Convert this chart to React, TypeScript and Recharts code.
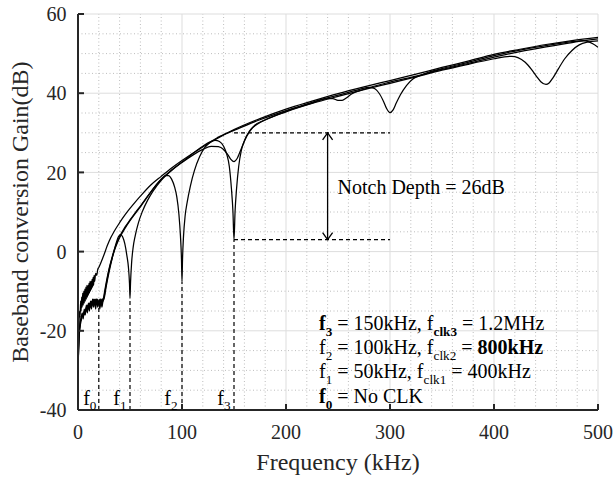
import React from 'react';
import { LineChart, Line, XAxis, YAxis, CartesianGrid, ReferenceLine, ReferenceDot } from 'recharts';

const FONT = 'Liberation Serif';
const INK = '#000000';
const FRAME = '#262626';

// axes
const xTicks = [0, 100, 200, 300, 400, 500];
const yTicks = [-40, -20, 0, 20, 40, 60];
const xMinorTicks = [20, 40, 60, 80, 120, 140, 160, 180, 220, 240, 260, 280, 320, 340, 360, 380, 420, 440, 460, 480];
const yMinorTicks = [-35, -30, -25, -15, -10, -5, 5, 10, 15, 25, 30, 35, 45, 50, 55];

// f0: no clock  [kHz, dB]
const noClkPoints: [number, number][] = [
  [0, -30], [0.5, -22], [1, -18], [1.5, -15], [2, -16.5], [2.5, -12.5], [3, -15], [3.5, -11.5], [4, -14],
  [4.5, -10.5], [5, -13.5], [5.5, -10], [6, -13], [6.5, -9.5], [7, -12.5], [7.5, -9], [8, -12], [8.5, -8.5],
  [9, -11.5], [9.5, -8.5], [10, -11], [10.5, -8], [11, -10.5], [11.5, -7.5], [12, -10], [12.5, -7.5], [13, -9.5],
  [13.5, -7], [14, -9], [14.5, -6.5], [15, -8.5], [15.5, -6], [16, -7.5], [17, -5.5], [18, -6], [19, -4.5],
  [20, -4], [22, -2.8], [25, -0.8], [28, 1.4], [30, 2.7], [35, 5.2], [40, 7.3], [45, 9.2], [50, 10.9],
  [55, 12.5], [60, 14], [70, 16.8], [80, 19], [90, 21.1], [100, 23], [115, 25.6], [130, 28], [150, 30.8],
  [175, 33.6], [200, 36], [225, 38], [250, 39.9], [275, 41.6], [300, 43.2], [325, 44.8], [350, 46.5],
  [375, 48.1], [400, 49.8], [425, 51.1], [450, 52.3], [475, 53.3], [500, 54.1],
];

// f1 = 50 kHz
const f1Points: [number, number][] = [
  [0, -30], [0.5, -25], [1, -21], [2, -18], [3, -17], [4, -15.5], [5, -17], [6, -14.5], [7, -16], [8, -13.5],
  [9, -15.5], [10, -13], [11, -15], [12, -12.5], [13, -14.5], [14, -12], [15, -14], [16, -12.5], [17, -14.5],
  [18, -12], [19, -14], [20, -12.5], [21, -14.5], [22, -12], [23, -14], [24, -12.5], [25, -12], [27, -9],
  [30, -5], [33, -1.5], [36, 1.5], [39, 3.8], [41, 4.3], [43, 3.7], [45, 2], [47, -1], [48.5, -4], [49.5, -8],
  [50, -11.8], [50.5, -8], [51.5, -3], [53, 1], [55, 4], [58, 7.2], [62, 10.2], [67, 13], [72, 15.2], [80, 18],
  [90, 20.5], [100, 22.5], [110, 24.3], [120, 25.8], [128, 26.6], [135, 26.5], [140, 25.8], [144, 24.5],
  [147, 23.3], [150, 22.7], [153, 23.5], [157, 26], [162, 29], [168, 31.3], [175, 32.6], [185, 33.8],
  [200, 35.4], [225, 37.5], [240, 38.6], [245, 38.6], [250, 38.2], [254, 38.2], [258, 38.8], [263, 39.8],
  [275, 41], [300, 42.8], [325, 44.3], [350, 46], [375, 47.5], [400, 49.1], [425, 50.5], [450, 51.7],
  [475, 52.8], [500, 53.7],
];

// f2 = 100 kHz
const f2Points: [number, number][] = [
  [0, -30], [0.5, -25], [1, -21.5], [2, -18.5], [3, -16.5], [4, -16], [5, -16.5], [6, -15], [7, -15.5],
  [8, -14], [9, -15], [10, -13.5], [11, -14.5], [12, -13], [13, -14], [14, -12.5], [15, -13.5], [16, -12],
  [17, -13.5], [18, -12], [19, -13.5], [20, -12.5], [21, -14], [22, -12], [23, -13.5], [24, -12], [25, -11.5],
  [27, -8.5], [30, -4.5], [33, -1.5], [36, 1], [40, 3.5], [45, 5.8], [50, 7.8], [55, 9.6], [60, 11.3],
  [65, 13.2], [70, 15], [75, 16.8], [80, 18.3], [84, 19.2], [87, 19.2], [90, 18.3], [93, 16.2], [95, 13.8],
  [97, 9.5], [98.5, 4], [99.5, -2], [100, -7.6], [100.5, -2], [101.5, 4], [103, 9], [105, 12.5], [108, 16.5],
  [112, 20.5], [117, 24], [122, 26.3], [128, 27.8], [135, 28.9], [150, 30.6], [175, 33.3], [200, 35.6],
  [225, 37.7], [250, 39.5], [270, 40.9], [280, 41.5], [285, 41.2], [290, 39.8], [294, 37.8], [297, 36],
  [300, 35.1], [303, 35.8], [306, 37.5], [310, 39.6], [316, 42], [322, 43.6], [330, 44.6], [350, 46.2],
  [375, 47.8], [400, 49.5], [425, 50.9], [450, 52], [475, 53], [486, 53.3], [490, 53.1], [495, 52.5],
  [500, 51.6],
];

// f3 = 150 kHz
const f3Points: [number, number][] = [
  [0, -30], [0.5, -25.5], [1, -22], [2, -19], [3, -17.5], [4, -16.5], [5, -15.5], [6, -16], [7, -14.5],
  [8, -15], [9, -13.5], [10, -14.5], [11, -13], [12, -14], [13, -12.5], [14, -13.5], [15, -12], [16, -13],
  [17, -12], [18, -13], [19, -12], [20, -13], [21, -12], [22, -13.5], [23, -12], [24, -12.5], [25, -11],
  [27, -8], [30, -4.2], [33, -1.2], [36, 1.3], [40, 3.8], [45, 6.1], [50, 8], [55, 9.8], [60, 11.5],
  [70, 15.1], [80, 18.2], [90, 20.6], [100, 22.6], [110, 24.7], [120, 26.6], [127, 27.7], [132, 28.1],
  [136, 27.8], [140, 26.6], [143, 24.6], [145.5, 21.5], [147.5, 16], [149, 10], [150, 3], [151, 10],
  [152.5, 16], [154.5, 21.5], [157, 25.5], [160, 28], [165, 30.5], [170, 31.9], [180, 33.3], [200, 35.3],
  [225, 37.4], [250, 39.2], [275, 40.9], [300, 42.5], [325, 44.1], [350, 45.8], [375, 47.3], [400, 48.7],
  [410, 49.2], [417, 49.3], [423, 49], [430, 47.8], [436, 46], [441, 44.2], [445, 42.9], [450, 42.2],
  [453, 42.6], [457, 44], [462, 46.2], [468, 48.7], [475, 50.8], [482, 52.2], [490, 52.9], [500, 53.2],
];

// annotations (data units)
const notchBandFreqs = [150, 300];
const notchBandLevels = [30, 3];
const arrowFreq = 240;
const notchLabel = 'Notch Depth = 26dB';
const markerFreqs = [20, 50, 100, 150];
const markerTops = [-14, -11.8, -7.6, 3];
const markerLabelFreqs = [5, 34, 83, 134];
const markerLabelGain = -38.7;
const markerSubs = ['0', '1', '2', '3'];

type Run = { t: string; sub?: boolean; bold?: boolean };
const legendLines: Run[][] = [
  [{ t: 'f', bold: true }, { t: '3', sub: true, bold: true }, { t: ' = 150kHz, f' }, { t: 'clk3', sub: true, bold: true }, { t: ' = 1.2MHz' }],
  [{ t: 'f' }, { t: '2', sub: true }, { t: ' = 100kHz, f' }, { t: 'clk2', sub: true }, { t: ' = ' }, { t: '800kHz', bold: true }],
  [{ t: 'f' }, { t: '1', sub: true }, { t: ' = 50kHz, f' }, { t: 'clk1', sub: true }, { t: ' = 400kHz' }],
  [{ t: 'f', bold: true }, { t: '0', sub: true, bold: true }, { t: ' = No CLK' }],
];

const toRows = (pts: [number, number][]) => pts.map(([f, g]) => ({ f, g }));
const series = [noClkPoints, f1Points, f2Points, f3Points].map(toRows);

function SvgRich({ x, y, runs, size }: { x: number; y: number; runs: Run[]; size: number }) {
  let shifted = false;
  const shift = size * 0.28;
  const spans = runs.map((r, i) => {
    let dy = 0;
    if (r.sub && !shifted) dy = shift;
    if (!r.sub && shifted) dy = -shift;
    shifted = !!r.sub;
    return (
      <tspan key={i} dy={dy} fontSize={r.sub ? size * 0.66 : size} fontWeight={r.bold ? 'bold' : 'normal'}>
        {r.t}
      </tspan>
    );
  });
  return (
    <text x={x} y={y} fill={INK} fontFamily="Times New Roman" fontSize={size}>
      {spans}
    </text>
  );
}

// HTML text line: (left, baseline) in px
function HtmlRich({ left, baseline, runs, size }: { left: number; baseline: number; runs: Run[]; size: number }) {
  return (
    <div
      style={{
        position: 'absolute',
        left,
        top: baseline - size * 0.8375,
        fontFamily: FONT,
        fontSize: size,
        lineHeight: `${size}px`,
        whiteSpace: 'pre',
        color: INK,
      }}
    >
      {runs.map((r, i) => (
        <span
          key={i}
          style={{
            fontSize: r.sub ? size * 0.66 : size,
            fontWeight: r.bold ? 'bold' : 'normal',
            verticalAlign: r.sub ? -size * 0.28 : 'baseline',
            lineHeight: 0,
          }}
        >
          {r.t}
        </span>
      ))}
    </div>
  );
}

const ArrowShape = (props: any) => {
  const { x1, y1, x2, y2 } = props;
  const top = Math.min(y1, y2);
  const bot = Math.max(y1, y2);
  const x = x1;
  return (
    <g stroke={INK} strokeWidth={1.3} fill="none">
      <line x1={x} y1={top} x2={x2} y2={bot} />
      <polyline points={`${x - 5},${top + 7} ${x},${top} ${x + 5},${top + 7}`} />
      <polyline points={`${x - 5},${bot - 7} ${x},${bot} ${x + 5},${bot - 7}`} />
    </g>
  );
};

const tickStyle = { fill: FRAME, fontSize: 20, fontFamily: FONT };

export default function App() {
  return (
    <div style={{ position: 'absolute', left: 0, top: 0, width: 614, height: 479, background: '#fff' }}>
      <LineChart width={614} height={479} margin={{ top: 14, right: 16, bottom: 9, left: 0 }}>
        <CartesianGrid stroke="#dddddd" strokeWidth={1} />
        <XAxis
          xAxisId={0}
          dataKey="f"
          type="number"
          domain={[0, 500]}
          ticks={xTicks}
          height={60}
          tickSize={-6}
          tickMargin={21}
          tick={tickStyle}
          axisLine={{ stroke: FRAME, strokeWidth: 2 }}
          tickLine={{ stroke: FRAME, strokeWidth: 2 }}
          allowDataOverflow
        />
        <XAxis
          xAxisId="top"
          orientation="top"
          dataKey="f"
          type="number"
          domain={[0, 500]}
          ticks={xTicks}
          height={0}
          tickSize={-6}
          tick={false}
          axisLine={{ stroke: FRAME, strokeWidth: 2 }}
          tickLine={{ stroke: FRAME, strokeWidth: 2 }}
        />
        <YAxis
          yAxisId={0}
          type="number"
          domain={[-40, 60]}
          ticks={yTicks}
          width={78}
          tickSize={-6}
          tickMargin={17.5}
          tick={tickStyle}
          axisLine={{ stroke: FRAME, strokeWidth: 2 }}
          tickLine={{ stroke: FRAME, strokeWidth: 2 }}
          allowDataOverflow
        />
        <YAxis
          yAxisId="right"
          orientation="right"
          type="number"
          domain={[-40, 60]}
          ticks={yTicks}
          width={0}
          tickSize={-6}
          tick={false}
          axisLine={{ stroke: FRAME, strokeWidth: 2 }}
          tickLine={{ stroke: FRAME, strokeWidth: 2 }}
        />
        {xMinorTicks.map((v) => (
          <ReferenceLine key={'mx' + v} x={v} stroke="#bdbdbd" strokeWidth={1} strokeDasharray="1 2.5" />
        ))}
        {yMinorTicks.map((v) => (
          <ReferenceLine key={'my' + v} y={v} stroke="#bdbdbd" strokeWidth={1} strokeDasharray="1 2.5" />
        ))}
        {series.map((d, i) => (
          <Line
            key={i}
            data={d}
            dataKey="g"
            type="monotone"
            stroke={INK}
            strokeWidth={1.25}
            dot={false}
            activeDot={false}
            isAnimationActive={false}
          />
        ))}
        {markerFreqs.map((f, i) => (
          <ReferenceLine
            key={'mk' + f}
            segment={[{ x: f, y: -40 }, { x: f, y: markerTops[i] }]}
            stroke={INK}
            strokeWidth={1.2}
            strokeDasharray="4 3"
          />
        ))}
        {notchBandLevels.map((lv) => (
          <ReferenceLine
            key={'nb' + lv}
            segment={[{ x: notchBandFreqs[0], y: lv }, { x: notchBandFreqs[1], y: lv }]}
            stroke={INK}
            strokeWidth={1.2}
            strokeDasharray="4 3"
          />
        ))}
        <ReferenceLine
          segment={[{ x: arrowFreq, y: notchBandLevels[1] }, { x: arrowFreq, y: notchBandLevels[0] }]}
          shape={ArrowShape}
        />
        {markerLabelFreqs.map((f, i) => (
          <ReferenceDot
            key={'ml' + i}
            x={f}
            y={markerLabelGain}
            r={0}
            shape={(p: any) => (
              <SvgRich x={p.cx} y={p.cy} size={20} runs={[{ t: 'f' }, { t: markerSubs[i], sub: true }]} />
            )}
          />
        ))}
      </LineChart>
      <div style={{ position: 'absolute', left: 0, top: 0, width: 614, height: 479, pointerEvents: 'none' }}>
        <HtmlRich left={337.5} baseline={194} size={20} runs={[{ t: notchLabel }]} />
        {legendLines.map((runs, i) => (
          <HtmlRich key={i} left={319} baseline={329.5 + i * 24.3} runs={runs} size={20} />
        ))}
        <div
          style={{
            position: 'absolute',
            left: 138,
            top: 450,
            width: 400,
            textAlign: 'center',
            fontFamily: FONT,
            fontSize: 24,
            lineHeight: '24px',
            color: FRAME,
          }}
        >
          Frequency (kHz)
        </div>
        <div
          style={{
            position: 'absolute',
            left: 20 - 200,
            top: 212 - 12,
            width: 400,
            height: 24,
            textAlign: 'center',
            fontFamily: FONT,
            fontSize: 24,
            lineHeight: '24px',
            color: FRAME,
            transform: 'rotate(-90deg)',
            transformOrigin: '50% 50%',
            whiteSpace: 'nowrap',
          }}
        >
          Baseband conversion Gain(dB)
        </div>
      </div>
    </div>
  );
}
